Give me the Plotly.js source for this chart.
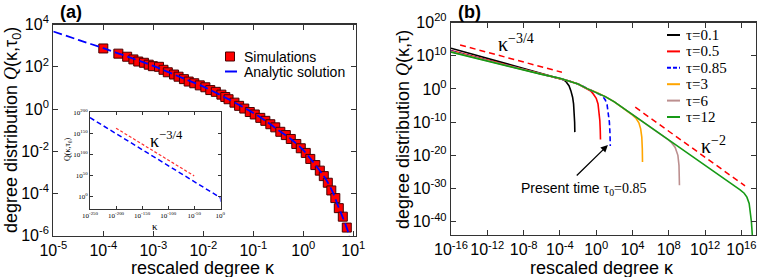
<!DOCTYPE html>
<html><head><meta charset="utf-8">
<script src="https://cdn.plot.ly/plotly-3.0.1.min.js"></script>
<style>html,body{margin:0;padding:0;background:#fff}</style>
</head><body><div id="chart" style="width:761px;height:277px"></div>
<script>
// ---------- Panel (a): main ----------
const simKappa = [1e-4, 2e-4, 3e-4, 4e-4, 5e-4, 6.5e-4, 8.1e-4, 9.8e-4, 1.3e-3, 1.6e-3, 1.95e-3, 2.6e-3, 3.2e-3, 4.1e-3, 5.1e-3, 6.6e-3, 8.5e-3, 1.1e-2, 1.38e-2, 1.78e-2, 2.3e-2, 2.75e-2, 3.2e-2, 4.2e-2, 5.2e-2, 6.6e-2, 8.5e-2, 0.107, 0.138, 0.174, 0.219, 0.275, 0.347, 0.447, 0.562, 0.724, 0.89, 1.12, 1.38, 1.74, 2.14, 2.57, 3.09, 3.63, 4.37, 5.13, 6.17, 7.41];
const simQ = [740, 420, 300, 224, 178, 155, 126, 107, 100, 72, 55, 43, 34, 26, 20, 16.6, 13.2, 10.7, 7.9, 6.5, 4.8, 3.7, 2.9, 2.0, 1.41, 1.05, 0.72, 0.55, 0.38, 0.275, 0.19, 0.135, 0.083, 0.058, 0.038, 0.022, 0.0138, 0.0083, 0.0043, 0.0022, 0.0012, 6.6e-4, 3.2e-4, 1.38e-4, 6.0e-5, 2.0e-5, 7.9e-6, 2.4e-6];
const anaKappa = [1e-5, 3.16e-5, 1e-4, 3.16e-4, 1e-3, 3.16e-3, 1e-2, 3.16e-2, 0.1, 0.178, 0.316, 0.562, 1.0, 1.585, 2.512, 3.162, 3.98, 5.01, 6.31, 7.94, 8.5];
const anaQ = [4700, 1900, 760, 295, 110, 35.5, 11.5, 2.95, 0.65, 0.27, 0.10, 0.038, 0.0112, 0.0030, 7.1e-4, 3.0e-4, 1.0e-4, 2.4e-5, 6.3e-6, 1.4e-6, 6.3e-7];

// ---------- Panel (a): inset ----------
const insetAnaKappa = [1e-250, 1e-200, 1e-150, 1e-100, 1e-50, 1e-5, 1e-1, 1, 7.94, 9];
const insetAnaQ = [2.5e187, 8e149, 2.5e112, 8e74, 2.5e37, 4700, 0.65, 0.0112, 1.4e-6, 1e-14];
const insetGuideKappa = [1e-200, 1e-50];
const insetGuideQ = [2.5e162, 2.5e49];

// ---------- Panel (b) ----------
const tauLabels = ['τ=0.1', 'τ=0.5', 'τ=0.85', 'τ=3', 'τ=6', 'τ=12'];
const tauColors = ['#000000', '#ff0000', '#0000ff', '#ffa500', '#bc8f8f', '#169a16'];
const tauDash = ['solid', 'solid', '5px,3px', 'solid', 'solid', 'solid'];
const k01 = [1e-16, 1e-12, 1e-8, 1e-6, 1e-4, 2.5e-4, 5e-4, 1e-3, 1.6e-3, 2.5e-3, 3.2e-3, 3.8e-3, 4.2e-3, 4.4e-3];
const q01 = [2e12, 2e9, 2e6, 6.3e4, 2e3, 630, 126, 10, 0.32, 3.2e-3, 3.2e-5, 1e-7, 1e-10, 1e-13];
const k05 = [1e-16, 1e-12, 1e-8, 1e-6, 1e-4, 1e-3, 1e-2, 0.1, 0.25, 0.5, 1, 1.58, 2.1, 2.5, 2.8, 2.95];
const q05 = [4e11, 6.3e8, 1e6, 4e4, 1.8e3, 250, 32, 1.4, 0.25, 0.025, 1.6e-3, 3.2e-5, 1.6e-7, 3.2e-10, 3.2e-13, 6.3e-16];
const k085 = [1e-16, 1e-12, 1e-8, 1e-6, 1e-4, 1e-3, 1e-2, 0.1, 1, 3.16, 6.3, 10, 15.8, 22.4, 28.2, 33.1, 35.5];
const q085 = [2.5e11, 4.5e8, 8e5, 3.2e4, 1.66e3, 250, 32, 1.3, 0.09, 0.016, 3.2e-3, 5e-4, 1.6e-5, 5e-8, 1e-10, 3.2e-14, 6.3e-18];
const k3 = [1e-16, 1e-12, 1e-8, 1e-6, 1e-4, 1e-3, 1e-2, 0.1, 1, 10, 100, 1e3, 3.16e3, 1e4, 2.5e4, 5e4, 7.9e4, 1.05e5, 1.2e5, 1.26e5];
const q3 = [2e11, 3.5e8, 6.3e5, 2.8e4, 1.6e3, 250, 32, 1.26, 0.1, 5e-3, 1.26e-4, 1.6e-6, 1.6e-7, 1.26e-8, 1.26e-9, 6.3e-11, 1e-12, 3.2e-15, 1e-18, 1e-22];
const k6 = [1e-16, 1e-12, 1e-8, 1e-6, 1e-4, 1e-3, 1e-2, 0.1, 1, 10, 100, 1e3, 1e4, 1e6, 6.3e7, 2e8, 5e8, 1e9, 1.32e9, 1.48e9];
const q6 = [1.6e11, 2.8e8, 5.6e5, 2.6e4, 1.6e3, 250, 32, 1.26, 0.1, 5e-3, 1.26e-4, 1.6e-6, 2e-8, 3.2e-12, 1e-15, 6.3e-17, 2.5e-18, 1e-20, 1e-23, 1e-29];
const k12 = [1e-16, 1e-12, 1e-8, 1e-6, 1e-4, 1e-3, 1e-2, 0.1, 1, 10, 100, 1e3, 1e4, 1e6, 1e8, 1e10, 1e12, 1e14, 1e15, 7.2e15, 2.0e16, 4.0e16, 7.1e16, 1.0e17, 1.26e17, 1.41e17, 1.58e17];
const q12 = [1.3e11, 2.5e8, 5e5, 2.5e4, 1.6e3, 250, 32, 1.26, 0.1, 5e-3, 1.26e-4, 1.6e-6, 2e-8, 3.2e-12, 4e-16, 6.3e-20, 1e-23, 1.6e-27, 2e-29, 4e-31, 4e-32, 2.5e-33, 3.2e-35, 1e-37, 1e-40, 1e-42, 1e-44];
const guideSlowKappa = [1e-15, 1.66e-4];
const guideSlowQ = [1.8e13, 1.07e5];
const guideFastKappa = [2e4, 2.5e16];
const guideFastQ = [3.2e-6, 6.3e-30];

// ---------- tick labels ----------
const aTickX = [1e-5, 1e-4, 1e-3, 1e-2, 1e-1, 1, 10];
const aTickXText = ['10<sup>-5</sup>', '10<sup>-4</sup>', '10<sup>-3</sup>', '10<sup>-2</sup>', '10<sup>-1</sup>', '10<sup>0</sup>', '10<sup>1</sup>'];
const aTickY = [1e-6, 1e-4, 1e-2, 1, 1e2, 1e4];
const aTickYText = ['10<sup>-6</sup>', '10<sup>-4</sup>', '10<sup>-2</sup>', '10<sup>0</sup>', '10<sup>2</sup>', '10<sup>4</sup>'];
const bTickX = [1e-16, 1e-12, 1e-8, 1e-4, 1, 1e4, 1e8, 1e12, 1e16];
const bTickXText = ['10<sup>-16</sup>', '10<sup>-12</sup>', '10<sup>-8</sup>', '10<sup>-4</sup>', '10<sup>0</sup>', '10<sup>4</sup>', '10<sup>8</sup>', '10<sup>12</sup>', '10<sup>16</sup>'];
const bTickY = [1e-40, 1e-30, 1e-20, 1e-10, 1, 1e10, 1e20];
const bTickYText = ['10<sup>-40</sup>', '10<sup>-30</sup>', '10<sup>-20</sup>', '10<sup>-10</sup>', '10<sup>0</sup>', '10<sup>10</sup>', '10<sup>20</sup>'];
const inTickX = [1e-250, 1e-200, 1e-150, 1e-100, 1e-50, 1];
const inTickXText = ['10<sup>-250</sup>', '10<sup>-200</sup>', '10<sup>-150</sup>', '10<sup>-100</sup>', '10<sup>-50</sup>', '10<sup>0</sup>'];
const inTickY = [1, 1e50, 1e100, 1e150, 1e200];
const inTickYText = ['10<sup>0</sup>', '10<sup>50</sup>', '10<sup>100</sup>', '10<sup>150</sup>', '10<sup>200</sup>'];

// ---------- layout helpers (pixel -> paper) ----------
const W = 761, H = 277;
const px = x => x / W, py = y => 1 - y / H;
const SANS = 'Liberation Sans, Arial, sans-serif';
const SERIF = 'Liberation Serif, Times New Roman, serif';

const traces = [
  {x: simKappa, y: simQ, xaxis: 'x', yaxis: 'y', mode: 'markers', name: 'Simulations',
   marker: {symbol: 'square', size: 9, color: '#ff0000', line: {color: '#4a0000', width: 1}}},
  {x: anaKappa, y: anaQ, xaxis: 'x', yaxis: 'y', mode: 'lines', name: 'Analytic solution',
   line: {color: '#0000ff', width: 1.8, dash: '9px,4px', shape: 'spline', smoothing: 0.6}},
  {x: insetGuideKappa, y: insetGuideQ, xaxis: 'x3', yaxis: 'y3', mode: 'lines', name: 'κ^-3/4 (inset)',
   line: {color: '#ff3030', width: 1.2, dash: '3px,2px'}},
  {x: insetAnaKappa, y: insetAnaQ, xaxis: 'x3', yaxis: 'y3', mode: 'lines', name: 'Analytic (inset)',
   line: {color: '#0000ff', width: 1.5, dash: '5px,3px'}},
  {x: guideSlowKappa, y: guideSlowQ, xaxis: 'x2', yaxis: 'y2', mode: 'lines', name: 'κ^-3/4',
   line: {color: '#ff0000', width: 1.5, dash: '6px,4px'}},
  {x: guideFastKappa, y: guideFastQ, xaxis: 'x2', yaxis: 'y2', mode: 'lines', name: 'κ^-2',
   line: {color: '#ff0000', width: 1.5, dash: '6px,4px'}}
];
const bK = [k01, k05, k085, k3, k6, k12];
const bQ = [q01, q05, q085, q3, q6, q12];
for (let i = 0; i < tauLabels.length; i++) {
  traces.push({x: bK[i], y: bQ[i], xaxis: 'x2', yaxis: 'y2', mode: 'lines', name: tauLabels[i],
    line: {color: tauColors[i], width: 1.6, dash: tauDash[i]}});
}

const axisBase = {
  type: 'log', showline: true, linecolor: '#333', linewidth: 1.2, mirror: 'ticks',
  ticks: 'inside', ticklen: 5, tickcolor: '#333', tickwidth: 1, showgrid: false, zeroline: false,
  tickmode: 'array', tickangle: 0, tickfont: {family: SANS, size: 16, color: '#000'}
};
const insetAxis = Object.assign({}, axisBase, {ticklen: 3, linewidth: 1,
  tickfont: {family: SERIF, size: 7, color: '#000'}});

function note(text, x, y, size, family, extra) {
  return Object.assign({text: text, x: px(x), y: py(y), xref: 'paper', yref: 'paper', borderpad: 0,
    xanchor: 'center', yanchor: 'middle', showarrow: false, font: {family: family, size: size, color: '#000'}}, extra || {});
}

const annotations = [
  note('<b>(a)</b>', 71, 12, 18, SANS),
  note('<b>(b)</b>', 469, 12, 18, SANS),
  note('degree distribution <span style="font-family:Liberation Serif"><i>Q</i></span>(κ,τ<sub>0</sub>)', 12, 130, 18, SANS, {textangle: -90}),
  note('degree distribution <span style="font-family:Liberation Serif"><i>Q</i></span>(κ,τ)', 403, 130, 18, SANS, {textangle: -90}),
  note('rescaled degree κ', 203, 267.5, 18, SANS),
  note('rescaled degree κ', 602, 267.5, 18, SANS),
  // inset titles
  note('Q(κ,τ<sub>0</sub>)', 68, 150, 8, SERIF, {textangle: -90}),
  note('κ', 155, 226, 11, SERIF),
  note('κ<sup>−3/4</sup>', 166, 139, 18, SERIF),
  // panel (b) power-law labels
  {text: 'κ<sup>−3/4</sup>', x: -8.8, y: 13.9, xref: 'x2', yref: 'y2', xanchor: 'center', yanchor: 'middle', borderpad: 0, showarrow: false, font: {family: SERIF, size: 20, color: '#000'}},
  {text: 'κ<sup>−2</sup>', x: 12.9, y: -16.9, xref: 'x2', yref: 'y2', xanchor: 'center', yanchor: 'middle', borderpad: 0, showarrow: false, font: {family: SERIF, size: 20, color: '#000'}},
  // present time arrow
  {text: '', x: 1.29, y: -16.9, xref: 'x2', yref: 'y2', ax: -2.31, ay: -26.5, axref: 'x2', ayref: 'y2',
   showarrow: true, arrowhead: 2, arrowsize: 1.1, arrowwidth: 1.3, arrowcolor: '#000', standoff: 0},
  note('Present time <span style="font-family:Liberation Serif">τ<sub>0</sub>=0.85</span>', 583, 189, 14, SANS),
  // legend (a)
  note('Simulations', 243, 56.5, 14, SANS, {xanchor: 'left'}),
  note('Analytic solution', 243, 71.5, 14, SANS, {xanchor: 'left'})
];
const shapes = [
  {type: 'rect', xref: 'paper', yref: 'paper', x0: px(225.5), x1: px(234.5), y0: py(61), y1: py(52),
   fillcolor: '#ff0000', line: {color: '#4a0000', width: 1}},
  {type: 'line', xref: 'paper', yref: 'paper', x0: px(225), x1: px(237), y0: py(71.5), y1: py(71.5),
   line: {color: '#0000ff', width: 2}}
];
// legend (b)
for (let i = 0; i < tauLabels.length; i++) {
  const yy = 35 + 16.4 * i;
  shapes.push({type: 'line', xref: 'paper', yref: 'paper', x0: px(667), x1: px(680), y0: py(yy), y1: py(yy),
    line: {color: tauColors[i], width: 2, dash: tauDash[i] === 'solid' ? 'solid' : '4px,2px'}});
  annotations.push(note(tauLabels[i], 685, yy, 15, SERIF, {xanchor: 'left'}));
}

const layout = {
  width: W, height: H, margin: {l: 0, r: 0, t: 0, b: 0},
  paper_bgcolor: '#fff', plot_bgcolor: '#fff', showlegend: false,
  font: {family: SANS, color: '#000'},
  xaxis: Object.assign({}, axisBase, {domain: [px(53.3), px(356)], range: [-5, 1.054], anchor: 'y', tickvals: aTickX, ticktext: aTickXText}),
  yaxis: Object.assign({}, axisBase, {domain: [py(235.6), py(24.6)], range: [-6, 4], anchor: 'x', tickvals: aTickY, ticktext: aTickYText}),
  xaxis2: Object.assign({}, axisBase, {domain: [px(451), px(755.5)], range: [-16, 17.55], anchor: 'y2', tickvals: bTickX, ticktext: bTickXText}),
  yaxis2: Object.assign({}, axisBase, {domain: [py(235), py(22.6)], range: [-44, 20], anchor: 'x2', tickvals: bTickY, ticktext: bTickYText}),
  xaxis3: Object.assign({}, insetAxis, {domain: [px(90), px(220.5)], range: [-250, 0.5], anchor: 'y3', tickvals: inTickX, ticktext: inTickXText}),
  yaxis3: Object.assign({}, insetAxis, {domain: [py(209), py(112.3)], range: [-29, 200], anchor: 'x3', tickvals: inTickY, ticktext: inTickYText}),
  annotations: annotations,
  shapes: shapes
};
Plotly.newPlot('chart', traces, layout, {displayModeBar: false, staticPlot: true});
</script>
</body></html>
